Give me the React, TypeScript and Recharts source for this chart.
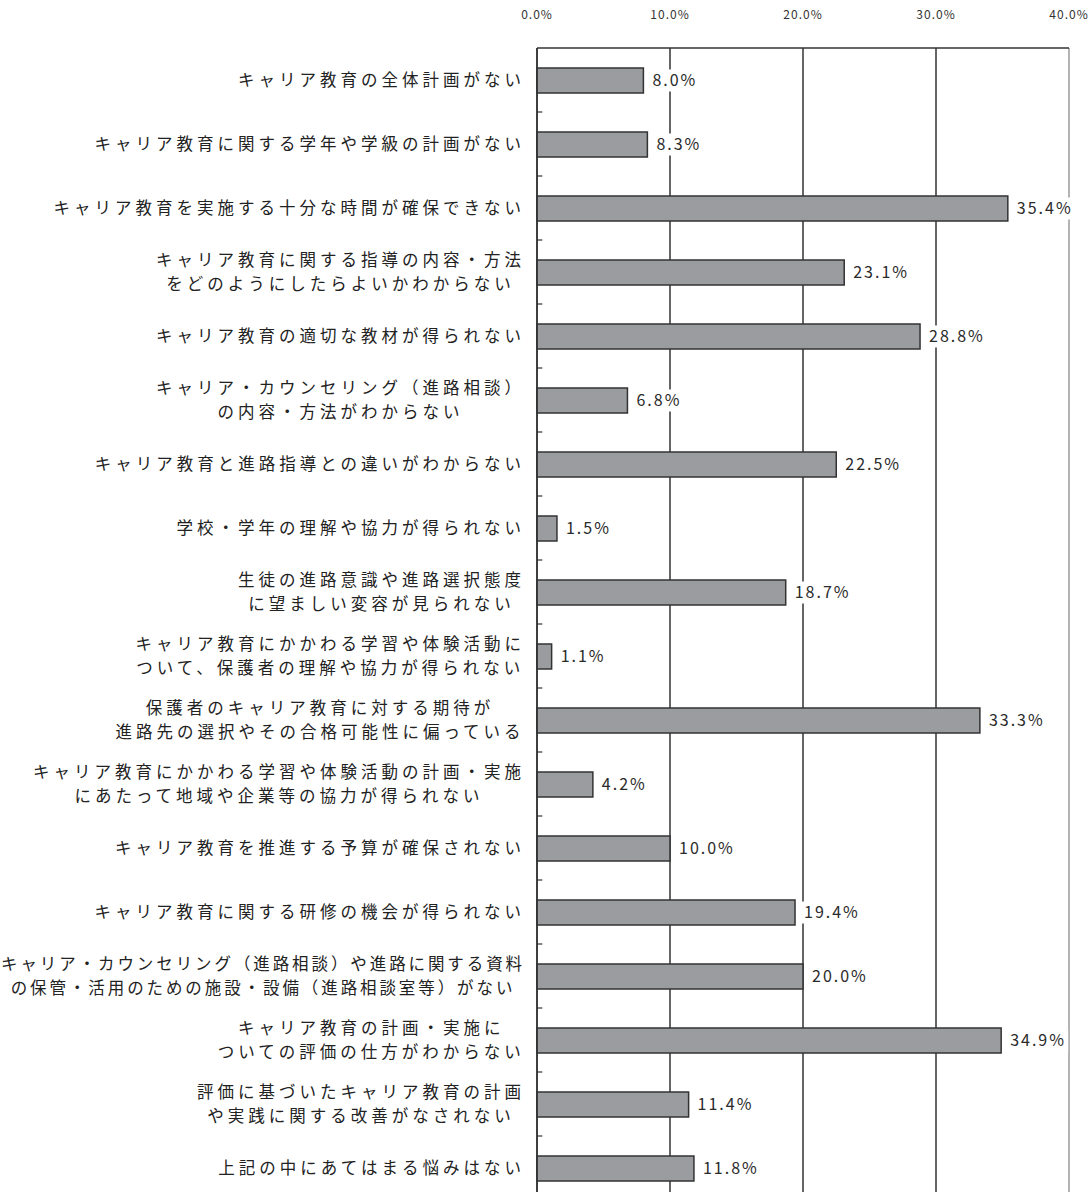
import React from 'react';
import {
  BarChart,
  Bar,
  XAxis,
  YAxis,
  CartesianGrid,
  LabelList,
  ReferenceLine,
} from 'recharts';

// 進路指導・キャリア教育に関する悩み（%）
const CATEGORIES = [
  'キャリア教育の全体計画がない',
  'キャリア教育に関する学年や学級の計画がない',
  'キャリア教育を実施する十分な時間が確保できない',
  'キャリア教育に関する指導の内容・方法\nをどのようにしたらよいかわからない',
  'キャリア教育の適切な教材が得られない',
  'キャリア・カウンセリング（進路相談）\nの内容・方法がわからない',
  'キャリア教育と進路指導との違いがわからない',
  '学校・学年の理解や協力が得られない',
  '生徒の進路意識や進路選択態度\nに望ましい変容が見られない',
  'キャリア教育にかかわる学習や体験活動に\nついて、保護者の理解や協力が得られない',
  '保護者のキャリア教育に対する期待が\n進路先の選択やその合格可能性に偏っている',
  'キャリア教育にかかわる学習や体験活動の計画・実施\nにあたって地域や企業等の協力が得られない',
  'キャリア教育を推進する予算が確保されない',
  'キャリア教育に関する研修の機会が得られない',
  'キャリア・カウンセリング（進路相談）や進路に関する資料\nの保管・活用のための施設・設備（進路相談室等）がない',
  'キャリア教育の計画・実施に\nついての評価の仕方がわからない',
  '評価に基づいたキャリア教育の計画\nや実践に関する改善がなされない',
  '上記の中にあてはまる悩みはない',
];

const VALUES = [8.0, 8.3, 35.4, 23.1, 28.8, 6.8, 22.5, 1.5, 18.7, 1.1, 33.3, 4.2, 10.0, 19.4, 20.0, 34.9, 11.4, 11.8];

const X_TICKS = [0, 10, 20, 30, 40];

const data = CATEGORIES.map((name, i) => ({ name, value: VALUES[i] }));

const FONT = '"Noto Sans CJK JP", "Noto Sans CJK SC", sans-serif';
const LABEL_SIZE = 16.5;
const LABEL_MAX_W = 524;

const CategoryTick = ({ x, y, payload }: any) => {
  const lines: string[] = String(payload.value).split('\n');
  const longest = Math.max(...lines.map((l) => l.length));
  const spacing = Math.min(4, (LABEL_MAX_W - longest * LABEL_SIZE) / longest);
  const blockW = longest * (LABEL_SIZE + spacing);
  const lh = 24;
  const top = y - ((lines.length - 1) * lh) / 2;
  const multi = lines.length > 1;
  return (
    <g>
      {lines.map((l, i) => (
        <text
          key={i}
          x={multi ? x - blockW / 2 : x}
          y={top + i * lh}
          dy="0.36em"
          fill="#222"
          fontSize={LABEL_SIZE}
          fontFamily={FONT}
          letterSpacing={spacing}
          textAnchor={multi ? 'middle' : 'end'}
        >
          {l}
        </text>
      ))}
    </g>
  );
};

const PercentTick = ({ x, y, payload }: any) => (
  <text x={x} y={y} textAnchor="middle" fontSize={12} fontFamily={FONT} letterSpacing={1} fill="#333">
    {payload.value.toFixed(1) + '%'}
  </text>
);

const ValueLabel = ({ x, y, width, height, value }: any) => {
  const s = value.toFixed(1) + '%';
  const lx = x + width + 9;
  const w = s.length * 11 + 6;
  return (
    <g>
      <rect x={lx - 3} y={y + height / 2 - 11} width={w} height={22} fill="#fff" />
      <text x={lx} y={y + height / 2} dy="0.36em" fontSize={16} fontFamily={FONT} letterSpacing={2} fill="#2a2a2a">
        {s}
      </text>
    </g>
  );
};

const GridLine = (p: any) => (
  <line
    key={p.key}
    x1={p.x1}
    y1={p.y1}
    x2={p.x2}
    y2={p.y2}
    stroke={p.index === X_TICKS.length - 1 ? '#9a9a9a' : '#333'}
    strokeWidth={1.5}
  />
);

export default function App() {
  return (
    <div style={{ position: 'absolute', top: 0, left: 0, background: '#fff' }}>
      <BarChart
        width={1092}
        height={1200}
        data={data}
        layout="vertical"
        margin={{ top: 0, right: 23, bottom: 0, left: 0 }}
      >
        <CartesianGrid horizontal={false} vertical={GridLine} />
        <XAxis
          type="number"
          orientation="top"
          domain={[0, 40]}
          ticks={X_TICKS}
          height={48}
          tickSize={0}
          tickMargin={29}
          tick={<PercentTick />}
          axisLine={{ stroke: '#333', strokeWidth: 1.5 }}
        />
        <YAxis
          type="category"
          dataKey="name"
          width={537}
          interval={0}
          tickLine={false}
          tickSize={0}
          tickMargin={12}
          tick={<CategoryTick />}
          axisLine={{ stroke: '#333', strokeWidth: 1.5 }}
        />
        {/* small marks on the axis between categories */}
        {CATEGORIES.slice(1).map((c) => (
          <ReferenceLine
            key={c}
            segment={[{ x: 0, y: c }, { x: 0.4, y: c }]}
            position="start"
            stroke="#333"
            strokeWidth={1.2}
          />
        ))}
        <Bar
          dataKey="value"
          barSize={25}
          fill="#9b9c9f"
          stroke="#333"
          strokeWidth={1.5}
          isAnimationActive={false}
        >
          <LabelList dataKey="value" content={<ValueLabel />} />
        </Bar>
      </BarChart>
    </div>
  );
}
